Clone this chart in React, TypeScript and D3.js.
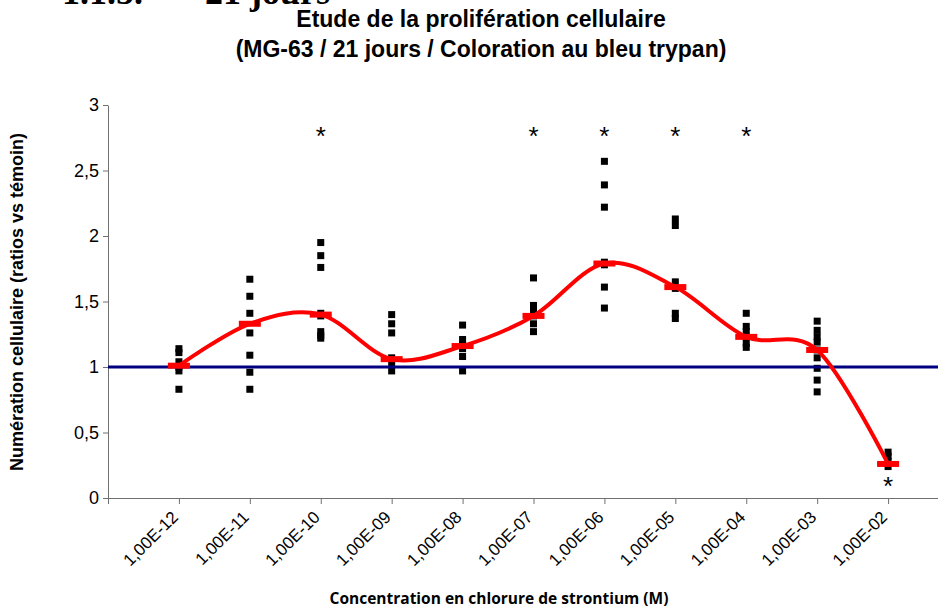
import { useEffect, useRef } from "react";
import * as d3 from "d3";

// concentrations (M)
const categories = [
  "1,00E-12",
  "1,00E-11",
  "1,00E-10",
  "1,00E-09",
  "1,00E-08",
  "1,00E-07",
  "1,00E-06",
  "1,00E-05",
  "1,00E-04",
  "1,00E-03",
  "1,00E-02",
];

// individual counts, ratio vs control
const replicates = [
  [1.14, 1.11, 1.04, 1.0, 0.97, 0.83],
  [1.67, 1.54, 1.41, 1.26, 1.09, 0.96, 0.83],
  [1.95, 1.85, 1.76, 1.41, 1.39, 1.27, 1.24, 1.22],
  [1.4, 1.33, 1.26, 1.07, 1.03, 0.97],
  [1.32, 1.21, 1.17, 1.14, 1.08, 0.97],
  [1.68, 1.47, 1.43, 1.39, 1.33, 1.27],
  [2.57, 2.39, 2.22, 1.8, 1.78, 1.61, 1.45],
  [2.13, 2.08, 1.65, 1.6, 1.41, 1.37],
  [1.41, 1.31, 1.27, 1.23, 1.18, 1.15],
  [1.35, 1.28, 1.23, 1.19, 1.13, 1.07, 0.99, 0.9, 0.81],
  [0.35, 0.32, 0.28, 0.24],
];

// red marks + smoothed curve
const means = [1.01, 1.33, 1.4, 1.06, 1.16, 1.39, 1.79, 1.61, 1.23, 1.13, 0.26];

// significance stars (value where the * sits, null = none)
const stars = [null, null, 2.81, null, null, 2.81, 2.81, 2.81, 2.81, null, 0.14];

const yTicks = [0, 0.5, 1, 1.5, 2, 2.5, 3];
const control = 1;

const fmt = (v: number) => String(v).replace(".", ",");

function ProliferationChart() {
  const svgRef = useRef<SVGSVGElement | null>(null);

  useEffect(() => {
    const svg: any = d3.select(svgRef.current);
    svg.selectAll("*").remove();

    const width = 938;
    const x = d3.scaleLinear().domain([0, 12]).range([108, 959]);
    const y = d3.scaleLinear().domain([0, 3]).range([498, 105]);
    const sans = "'Liberation Sans', Arial, sans-serif";

    // heading cut by the top of the picture
    const head = svg
      .append("g")
      .style("font-family", "'Liberation Serif', 'Times New Roman', serif")
      .style("font-weight", "bold")
      .style("font-size", "36px");
    head.append("text").attr("x", 62).attr("y", 4).text("1.1.5.");
    head.append("text").attr("x", 205).attr("y", 4).text("21 jours");

    // title
    const title = svg
      .append("text")
      .attr("text-anchor", "middle")
      .style("font-family", sans)
      .style("font-weight", "bold")
      .style("font-size", "23px");
    title.append("tspan").attr("x", 481).attr("y", 27).text("Etude de la prolifération cellulaire");
    title
      .append("tspan")
      .attr("x", 481)
      .attr("y", 57)
      .text("(MG-63 / 21 jours / Coloration au bleu trypan)");

    // y axis
    const yAxis = svg
      .append("g")
      .attr("transform", `translate(${x(0)},0)`)
      .call(d3.axisLeft(y).tickValues(yTicks).tickFormat(fmt as any).tickSize(5).tickSizeOuter(0).tickPadding(4));
    yAxis.selectAll("path, line").attr("stroke", "#707070");
    yAxis
      .selectAll("text")
      .style("font-family", sans)
      .style("font-size", "18px")
      .attr("fill", "#000");

    // x axis
    const xAxis = svg
      .append("g")
      .attr("transform", `translate(0,${y(0)})`)
      .call(
        d3
          .axisBottom(x)
          .tickValues(d3.range(0, categories.length + 1))
          .tickFormat(() => "")
          .tickSize(6)
          .tickSizeOuter(0)
      );
    xAxis.selectAll("path, line").attr("stroke", "#707070");

    svg
      .append("g")
      .selectAll("text")
      .data(categories)
      .enter()
      .append("text")
      .attr("transform", (_: any, i: number) => `translate(${x(i + 1) - 4},${y(0) + 16}) rotate(-45)`)
      .attr("text-anchor", "end")
      .attr("dy", "0.35em")
      .style("font-family", sans)
      .style("font-size", "17px")
      .text((d: string) => d);

    // axis titles
    svg
      .append("text")
      .attr("transform", "translate(23,302) rotate(-90)")
      .attr("text-anchor", "middle")
      .style("font-family", sans)
      .style("font-weight", "bold")
      .style("font-size", "18px")
      .text("Numération cellulaire (ratios vs témoin)");

    svg
      .append("text")
      .attr("x", 499)
      .attr("y", 604)
      .attr("text-anchor", "middle")
      .style("font-family", "'Open Sans', 'Noto Sans', sans-serif")
      .style("font-weight", "bold")
      .style("font-size", "15.5px")
      .text("Concentration en chlorure de strontium (M)");

    // replicate points
    const pts = replicates.flatMap((vals, i) => vals.map((v) => ({ i, v })));
    svg
      .append("g")
      .selectAll("rect")
      .data(pts)
      .enter()
      .append("rect")
      .attr("x", (d: any) => x(d.i + 1) - 3.5)
      .attr("y", (d: any) => y(d.v) - 3.5)
      .attr("width", 7)
      .attr("height", 7)
      .attr("fill", "#000");

    // control line
    svg
      .append("line")
      .attr("x1", x(0))
      .attr("x2", width)
      .attr("y1", y(control))
      .attr("y2", y(control))
      .attr("stroke", "#000080")
      .attr("stroke-width", 3);

    // smoothed mean curve
    const line = d3
      .line<number>()
      .x((_, i) => x(i + 1))
      .y((d) => y(d))
      .curve(d3.curveCatmullRom.alpha(0));
    svg
      .append("path")
      .attr("d", line(means))
      .attr("fill", "none")
      .attr("stroke", "#ff0000")
      .attr("stroke-width", 4);

    svg
      .append("g")
      .selectAll("rect")
      .data(means)
      .enter()
      .append("rect")
      .attr("x", (_: any, i: number) => x(i + 1) - 11)
      .attr("y", (d: number) => y(d) - 3)
      .attr("width", 22)
      .attr("height", 6)
      .attr("fill", "#ff0000");

    // stars
    svg
      .append("g")
      .selectAll("text")
      .data(stars.map((s, i) => ({ s, i })).filter((d) => d.s !== null))
      .enter()
      .append("text")
      .attr("x", (d: any) => x(d.i + 1))
      .attr("y", (d: any) => y(d.s) + 15)
      .attr("text-anchor", "middle")
      .style("font-family", sans)
      .style("font-size", "26px")
      .text("*");
  }, []);

  return (
    <svg
      ref={svgRef}
      width={938}
      height={613}
      style={{ position: "absolute", left: 0, top: 0, background: "#fff" }}
    ></svg>
  );
}

export default function App() {
  return <ProliferationChart />;
}
